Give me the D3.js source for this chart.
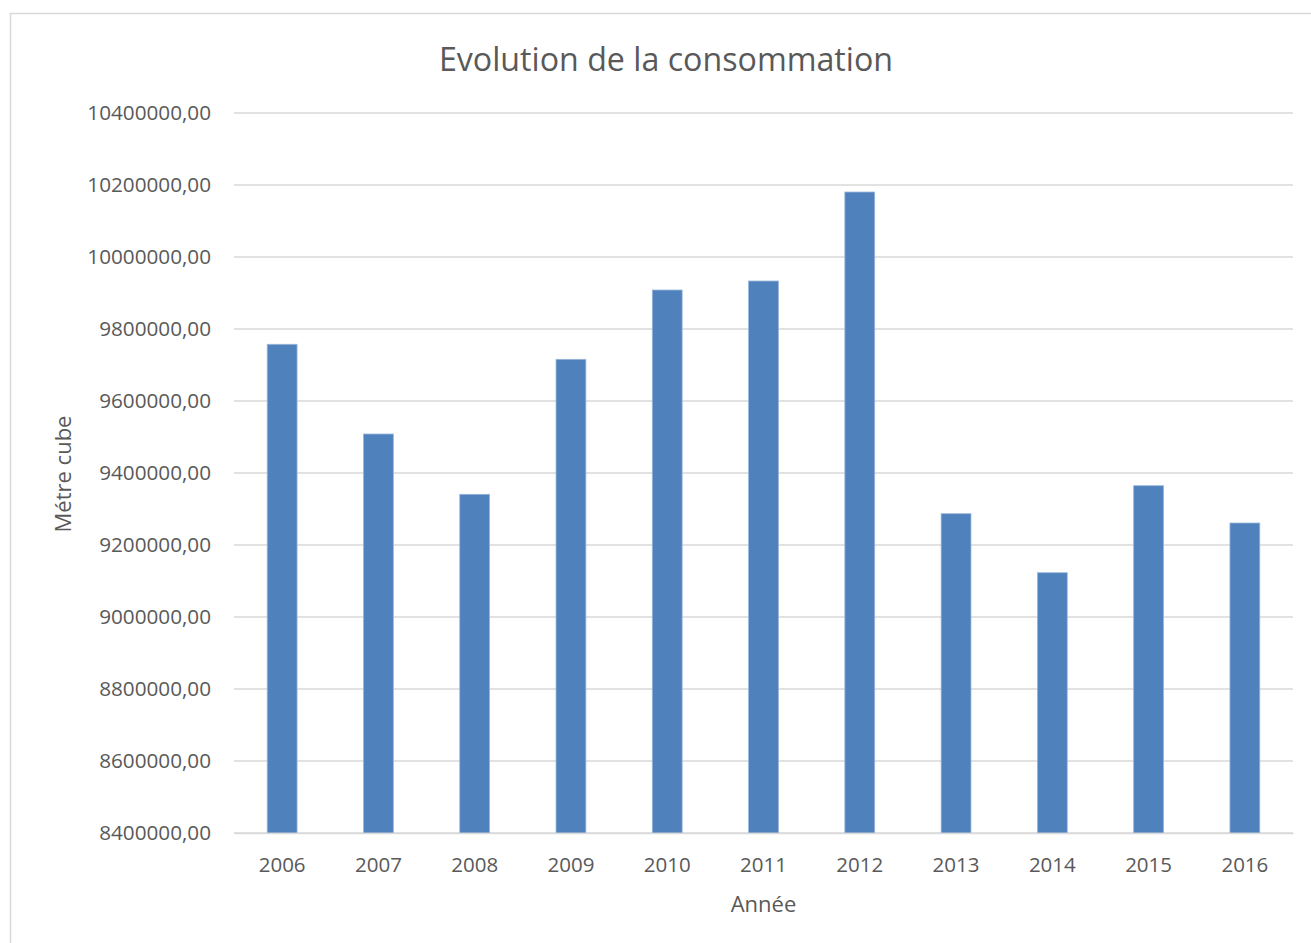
<!DOCTYPE html>
<html>
<head>
<meta charset="utf-8">
<script src="https://cdn.jsdelivr.net/npm/d3@7"></script>
<style>
  body { margin: 0; background: #fff; }
  text { font-family: "Open Sans", sans-serif; fill: #595959; }
</style>
</head>
<body>
<div id="chart"></div>
<script>
// data
const years = ['2006', '2007', '2008', '2009', '2010', '2011', '2012', '2013', '2014', '2015', '2016'];
const volumes = [9757500, 9508300, 9340800, 9715800, 9908300, 9933300, 10180500, 9286900, 9123000, 9364700, 9261100];
const yTicks = [8400000, 8600000, 8800000, 9000000, 9200000, 9400000, 9600000, 9800000, 10000000, 10200000, 10400000];

const width = 1311;
const height = 943;
const margin = {top: 113, bottom: 110, left: 234, right: 18};

const svg = d3.select('#chart').append('svg')
  .attr('width', width)
  .attr('height', height);

// chart frame
svg.append('rect')
  .attr('x', 10.5)
  .attr('y', 13.5)
  .attr('width', width + 20)
  .attr('height', height + 20)
  .style('fill', 'none')
  .style('stroke', '#d9d9d9')
  .style('stroke-width', '1.5px');

const x = d3.scaleBand()
  .domain(years)
  .range([margin.left, width - margin.right])
  .paddingInner(0.69)
  .paddingOuter(0.345);

const y = d3.scaleLinear()
  .domain([8400000, 10400000])
  .range([height - margin.bottom, margin.top]);

// gridlines
svg.append('g').attr('class', 'grid')
  .selectAll('line')
  .data(yTicks)
  .enter().append('line')
  .attr('x1', margin.left)
  .attr('x2', width - margin.right)
  .attr('y1', d => y(d))
  .attr('y2', d => y(d))
  .style('stroke', '#d9d9d9')
  .style('stroke-width', '1.5px');

// bars
svg.append('g').attr('class', 'bars')
  .selectAll('rect')
  .data(years)
  .enter().append('rect')
  .attr('x', d => x(d))
  .attr('y', (d, i) => y(volumes[i]))
  .attr('width', x.bandwidth())
  .attr('height', (d, i) => y(8400000) - y(volumes[i]))
  .style('fill', '#4f81bd')
  .style('stroke', '#9ab6da')
  .style('stroke-width', '0.8px');

// y axis labels
const yAxis = d3.axisLeft(y)
  .tickValues(yTicks)
  .tickSize(0)
  .tickPadding(23)
  .tickFormat(d => d3.format('d')(d) + ',00');
svg.append('g')
  .attr('transform', `translate(${margin.left}, 0)`)
  .call(yAxis)
  .call(g => g.select('.domain').remove())
  .selectAll('text')
  .style('font-family', '"Open Sans", sans-serif')
  .style('font-size', '20.7px')
  .style('fill', '#595959');

// x axis labels
const xAxis = d3.axisBottom(x).tickSize(0).tickPadding(24);
svg.append('g')
  .attr('transform', `translate(0, ${height - margin.bottom})`)
  .call(xAxis)
  .call(g => g.select('.domain')
    .style('stroke', '#d9d9d9')
    .style('stroke-width', '1.5px'))
  .selectAll('text')
  .style('font-family', '"Open Sans", sans-serif')
  .style('font-size', '20.5px')
  .style('fill', '#595959');

// title
svg.append('text')
  .attr('x', 666)
  .attr('y', 71)
  .attr('text-anchor', 'middle')
  .style('font-size', '32.2px')
  .text('Evolution de la consommation');

// axis titles
svg.append('text')
  .attr('x', (margin.left + width - margin.right) / 2)
  .attr('y', 912)
  .attr('text-anchor', 'middle')
  .style('font-size', '22px')
  .text('Année');

svg.append('text')
  .attr('transform', 'translate(71, 474) rotate(-90)')
  .attr('text-anchor', 'middle')
  .style('font-size', '22px')
  .text('Métre cube');
</script>
</body>
</html>
